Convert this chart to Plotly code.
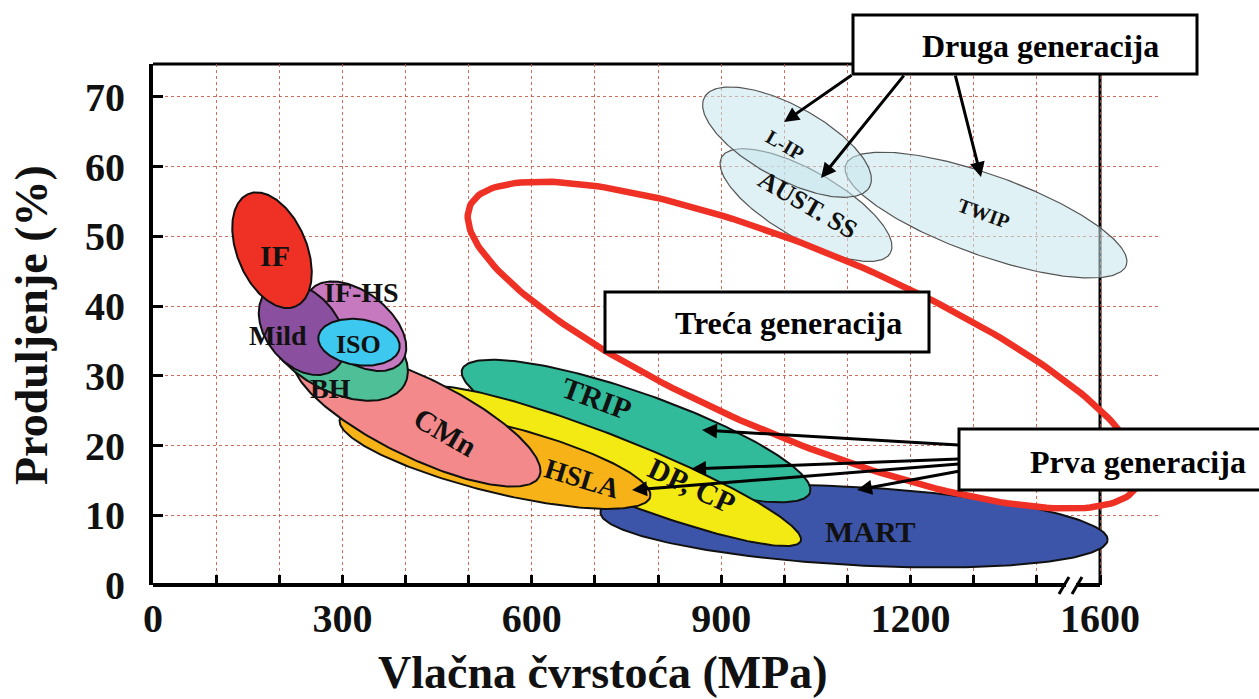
import numpy as np
import plotly.graph_objects as go

# ---------------- data ----------------
# axis ticks (axis is broken near the end: the last position is labelled 1600)
x_tick_vals = list(range(0, 1501, 100))
x_tick_text = ["0", "", "", "300", "", "", "600", "", "", "900", "", "", "1200", "", "", "1600"]
y_tick_vals = [0, 10, 20, 30, 40, 50, 60, 70]
y_tick_text = ["0", "10", "20", "30", "40", "50", "60", "70"]
X_AXIS_END = 1500   # position of the last (broken-axis) tick / right frame
x_title = "Vlačna čvrstoća (MPa)"
y_title = "Produljenje (%)"

# first generation steels (drawn bottom -> top)
gen1_names = ["MART", "TRIP", "DP, CP", "HSLA", "CMn", "BH", "IF-HS", "Mild", "IF", "ISO"]
gen1_cx = [1110.4, 765.1, 723.9, 541.7, 418.2, 288.3, 321.5, 236.0, 188.5, 326.3]      # MPa
gen1_cy = [8.46, 22.08, 17.06, 18.2, 24.08, 34.4, 37.1, 36.7, 48.0, 34.8]              # %
gen1_dx = [401.7, 275.5, 302.1, 245.9, 193.6, 109.8, 72.4, 52.9, 37.2, 64.3]          # half major axis, MPa
gen1_dy = [-2.0, -8.83, -10.77, -5.55, -8.54, -5.73, -5.12, -5.71, -8.07, -0.82]      # half major axis, %
gen1_ratio = [0.154, 0.206, 0.146, 0.2125, 0.294, 0.56, 0.59, 0.69, 0.57, 0.56]       # minor / major
gen1_colors = ["#3d55a8", "#31bb9a", "#f2ea12", "#f7b217", "#f3898a",
               "#4ebf96", "#c679bf", "#8a4f9e", "#ee3124", "#3dc8ef"]

# second generation steels
gen2_names = ["TWIP", "AUST. SS", "L-IP"]
gen2_cx = [1319.4, 1034.3, 1004.2]
gen2_cy = [53.04, 54.47, 63.5]
gen2_dx = [222.2, 133.5, 130.8]
gen2_dy = [-7.2, -6.89, -6.43]
gen2_ratio = [0.27, 0.35, 0.39]

# third generation target region
gen3_cx, gen3_cy, gen3_dx, gen3_dy, gen3_ratio = 1031.2, 34.4, 529.7, -19.85, 0.26

# labels inside regions
label_text = ["IF", "IF-HS", "Mild", "ISO", "BH", "CMn", "HSLA", "DP, CP", "TRIP",
              "MART", "L-IP", "AUST. SS", "TWIP"]
label_x = [193.2, 331, 198, 324.7, 280.4, 464, 679.5, 853.8, 703.3, 1135.7, 1001, 1036, 1314.7]
label_y = [47.3, 42.0, 35.8, 34.5, 28.2, 21.9, 15.3, 14.3, 26.8, 7.6, 63.1, 54.5, 53.3]
label_angle = [0, 0, 0, 0, 0, 30, 17, 25, 20, 0, 30, 30, 20]
label_size = [30, 28, 28, 26, 28, 30, 28, 30, 30, 30, 20, 26, 20]

# callout arrows: (tail x, tail y) -> (head x, head y)
arrow_tail_x = [1108.8, 1191.1, 1270.3, 1278.3, 1278.3, 1278.3, 1278.3]
arrow_tail_y = [73.25, 73.25, 73.25, 20.07, 18.06, 17.35, 16.34]
arrow_head_x = [999.5, 1058.1, 1311.5, 869.6, 852.2, 758.7, 1115.1]
arrow_head_y = [66.37, 58.34, 58.49, 22.22, 16.63, 13.62, 13.62]

# ---------------- layout geometry ----------------
W, H = 1259, 699
ML, MR, MT, MB = 153, 99, 64, 114
X_RANGE = [0, 1595]
Y_RANGE = [0, 74.7]
PW, PH = W - ML - MR, H - MT - MB
SX = PW / (X_RANGE[1] - X_RANGE[0])
SY = PH / (Y_RANGE[1] - Y_RANGE[0])

FONT = "Liberation Serif"


def fx(px):  # page pixel -> paper x
    return (px - ML) / PW


def fy(py):  # page pixel -> paper y
    return (H - MB - py) / PH


def ellipse(cx, cy, dx, dy, ratio, n=240):
    t = np.linspace(0, 2 * np.pi, n)
    ux, uy = dx * SX, dy * SY
    vx, vy = -uy * ratio, ux * ratio
    px = np.cos(t) * ux + np.sin(t) * vx
    py = np.cos(t) * uy + np.sin(t) * vy
    return cx + px / SX, cy + py / SY


fig = go.Figure()

for i, name in enumerate(gen1_names):
    ex, ey = ellipse(gen1_cx[i], gen1_cy[i], gen1_dx[i], gen1_dy[i], gen1_ratio[i])
    fig.add_trace(go.Scatter(x=ex, y=ey, mode="lines", fill="toself",
                             fillcolor=gen1_colors[i], line=dict(color="#111111", width=2),
                             name=name, hoverinfo="skip"))

for i, name in enumerate(gen2_names):
    ex, ey = ellipse(gen2_cx[i], gen2_cy[i], gen2_dx[i], gen2_dy[i], gen2_ratio[i])
    fig.add_trace(go.Scatter(x=ex, y=ey, mode="lines", fill="toself",
                             fillcolor="rgba(196,230,236,0.55)", line=dict(color="#555555", width=1.2),
                             name=name, hoverinfo="skip"))

ex, ey = ellipse(gen3_cx, gen3_cy, gen3_dx, gen3_dy, gen3_ratio)
fig.add_trace(go.Scatter(x=ex, y=ey, mode="lines", line=dict(color="#ee3124", width=6.5),
                         name="Treća generacija", hoverinfo="skip"))

annotations = []
for i, txt in enumerate(label_text):
    annotations.append(dict(x=label_x[i], y=label_y[i], xref="x", yref="y", text="<b>%s</b>" % txt,
                            showarrow=False, textangle=label_angle[i],
                            xanchor="center", yanchor="middle",
                            font=dict(family=FONT, size=label_size[i], color="#111111")))

for i in range(len(arrow_head_x)):
    annotations.append(dict(x=arrow_head_x[i], y=arrow_head_y[i], xref="x", yref="y",
                            ax=arrow_tail_x[i], ay=arrow_tail_y[i], axref="x", ayref="y",
                            text="", showarrow=True, arrowhead=2, arrowsize=1.0,
                            arrowwidth=3, arrowcolor="#000000", standoff=0, startstandoff=0))

# box captions
box_font = dict(family=FONT, size=32, color="#000000")
for txt, cx, cy in [("Druga generacija", 1040, 46), ("Treća generacija", 788, 323),
                    ("Prva generacija", 1138, 462)]:
    annotations.append(dict(x=fx(cx), y=fy(cy), xref="paper", yref="paper", text="<b>%s</b>" % txt,
                            showarrow=False, xanchor="center", yanchor="middle", font=box_font))

# axis titles
annotations.append(dict(x=fx(603), y=fy(672), xref="paper", yref="paper", text="<b>%s</b>" % x_title,
                        showarrow=False, xanchor="center", yanchor="middle",
                        font=dict(family=FONT, size=46, color="#111111")))
annotations.append(dict(x=fx(31), y=fy(325), xref="paper", yref="paper", text="<b>%s</b>" % y_title,
                        showarrow=False, xanchor="center", yanchor="middle", textangle=-90,
                        font=dict(family=FONT, size=46, color="#111111")))

box_line = dict(color="#000000", width=3)
shapes = []
# plot frame (the axis is broken, the frame ends at the last tick)
shapes.append(dict(type="rect", xref="x", yref="paper", x0=X_AXIS_END, x1=X_RANGE[1], y0=0, y1=1,
                   line=dict(width=0), fillcolor="white", layer="between"))
shapes.append(dict(type="line", xref="x", yref="paper", x0=0, x1=X_AXIS_END, y0=1, y1=1,
                   line=dict(color="black", width=3), layer="between"))
shapes.append(dict(type="line", xref="x", yref="paper", x0=X_AXIS_END, x1=X_AXIS_END, y0=0, y1=1,
                   line=dict(color="black", width=3), layer="between"))
shapes.append(dict(type="line", xref="x", yref="paper", x0=0, x1=X_AXIS_END, y0=0, y1=0,
                   line=dict(color="black", width=4), layer="above"))
# boxes
for x0, y0, x1, y1 in [(853, 15, 1197, 74), (605, 292, 929, 352), (959, 429, 1275, 490)]:
    shapes.append(dict(type="rect", xref="paper", yref="paper", x0=fx(x0), x1=fx(x1),
                       y0=fy(y1), y1=fy(y0), line=box_line, fillcolor="white", layer="above"))
# axis break marks
shapes += [
    dict(type="rect", xref="paper", yref="paper", x0=fx(1066), x1=fx(1076), y0=fy(591), y1=fy(579),
         line=dict(width=0), fillcolor="white", layer="above"),
    dict(type="line", xref="paper", yref="paper", x0=fx(1059), x1=fx(1069), y0=fy(594), y1=fy(577),
         line=dict(color="black", width=3), layer="above"),
    dict(type="line", xref="paper", yref="paper", x0=fx(1072), x1=fx(1082), y0=fy(594), y1=fy(577),
         line=dict(color="black", width=3), layer="above"),
]

tick_font = dict(family=FONT, size=40, color="#111111")
grid_color = "rgba(196,72,52,0.8)"

fig.update_layout(
    width=W, height=H,
    margin=dict(l=ML, r=MR, t=MT, b=MB),
    paper_bgcolor="white", plot_bgcolor="white",
    showlegend=False, hovermode=False,
    annotations=annotations, shapes=shapes,
    xaxis=dict(range=X_RANGE, tickmode="array", tickvals=x_tick_vals,
               ticktext=["<b>%s</b>" % t if t else "" for t in x_tick_text],
               ticks="inside", ticklen=10, tickwidth=3, tickcolor="black",
               showline=False, showgrid=True, gridcolor=grid_color, gridwidth=1, griddash="dot",
               zeroline=False, tickfont=tick_font, ticklabelstandoff=6, automargin=False),
    yaxis=dict(range=Y_RANGE, tickmode="array", tickvals=y_tick_vals,
               ticktext=["<b>%s</b>" % t for t in y_tick_text],
               ticks="inside", ticklen=10, tickwidth=3, tickcolor="black",
               showline=True, linecolor="black", linewidth=4, mirror=False,
               showgrid=True, gridcolor=grid_color, gridwidth=1, griddash="dot",
               zeroline=False, tickfont=tick_font, ticklabelstandoff=16, automargin=False),
)

fig.write_html("out.html", config={"displayModeBar": False},
               post_script="document.body.style.margin='0';document.body.style.overflow='hidden';")
